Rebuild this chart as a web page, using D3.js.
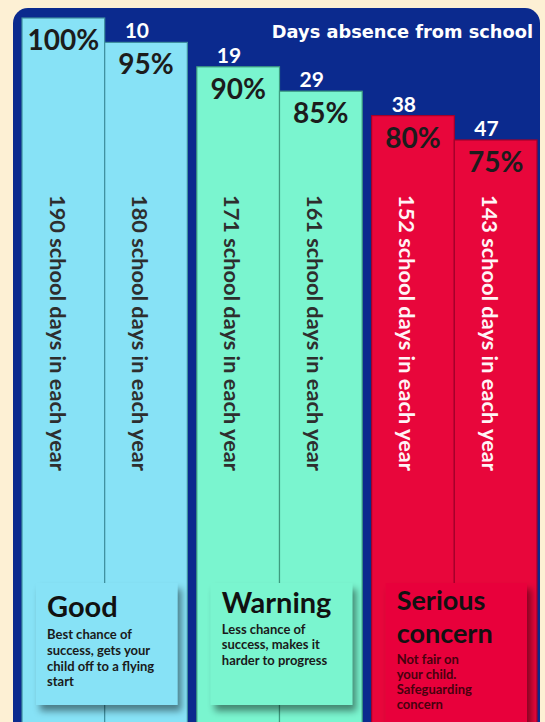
<!DOCTYPE html>
<html>
<head>
<meta charset="utf-8">
<script src="https://cdn.jsdelivr.net/npm/d3@7/dist/d3.min.js"></script>
<style>
  html, body { margin: 0; padding: 0; background: #fdf0d4; }
  svg { display: block; }
</style>
</head>
<body>
<svg id="chart" width="545" height="722"></svg>
<script>
// ---- data ----
const groups = ["Good", "Warning", "Serious concern"];
const barGroup = [0, 0, 1, 1, 2, 2];
const attendance = [100, 95, 90, 85, 80, 75];
const daysAbsent = [0, 10, 19, 29, 38, 47];
const schoolDays = [190, 180, 171, 161, 152, 143];
const cardTitles = [["Good"], ["Warning"], ["Serious", "concern"]];
const cardTexts = [
  ["Best chance of", "success, gets your", "child off to a flying", "start"],
  ["Less chance of", "success, makes it", "harder to progress"],
  ["Not fair on", "your child.", "Safeguarding", "concern"]
];
const chartTitle = "Days absence from school";

// ---- styles ----
const W = 545, H = 722;
const fills = ["#87e2f6", "#7af5cf", "#e8063b"];
const strokes = ["#3f8f9f", "#3e9c80", "#a3002a"];
const cardTextColor = ["#1a1a1a", "#1a1a1a", "#48000e"];
const dayLabelColor = ["#2e2e2e", "#2e2e2e", "#fff4f6"];

const svg = d3.select("#chart");
const defs = svg.append("defs");
const f = defs.append("filter").attr("id", "shadow")
  .attr("x", "-20%").attr("y", "-20%").attr("width", "150%").attr("height", "150%");
f.append("feDropShadow").attr("dx", 4).attr("dy", 6).attr("stdDeviation", 3.5)
  .attr("flood-color", "#000").attr("flood-opacity", 0.45);

svg.append("rect").attr("width", W).attr("height", H).attr("fill", "#fdf0d4");
// panel
svg.append("rect").attr("x", 13).attr("y", 8).attr("width", 527).attr("height", H + 30)
  .attr("rx", 15).attr("fill", "#0b2a8e");

// scales
const xGroup = d3.scaleBand().domain(d3.range(groups.length)).range([22, 537]).paddingInner(0.054).paddingOuter(0);
const xInner = d3.scaleBand().domain([0, 1]).range([0, xGroup.bandwidth()]).padding(0);
const y = d3.scaleLinear().domain([75, 100]).range([140, 18]);

const bars = attendance.map((v, i) => ({
  i, v, g: barGroup[i], days: daysAbsent[i], school: schoolDays[i],
  x: xGroup(barGroup[i]) + xInner(i % 2), w: xInner.bandwidth()
}));

const gBars = svg.append("g");
gBars.selectAll("rect").data(bars).join("rect")
  .attr("x", d => d.x).attr("y", d => y(d.v))
  .attr("width", d => d.w).attr("height", d => H + 10 - y(d.v))
  .attr("fill", d => fills[d.g]).attr("stroke", d => strokes[d.g]).attr("stroke-width", 1.2);

// percent labels
svg.append("g").selectAll("text").data(bars).join("text")
  .attr("x", d => d.x + d.w / 2).attr("y", d => y(d.v) + 32)
  .attr("text-anchor", "middle")
  .attr("font-family", "Lato, sans-serif").attr("font-size", 28).attr("font-weight", 700)
  .attr("fill", "#1c1c1c")
  .text(d => d.v + "%");

// days absent labels
svg.append("g").selectAll("text").data(bars.filter(d => d.days > 0)).join("text")
  .attr("x", d => d.x + 20).attr("y", d => y(d.v) - 4)
  .attr("font-family", "Lato, sans-serif").attr("font-size", 21).attr("font-weight", 700)
  .attr("fill", "#ffffff")
  .text(d => d.days);

// rotated school-days labels
svg.append("g").selectAll("text").data(bars).join("text")
  .attr("transform", d => `translate(${d.x + 36},195) rotate(90)`)
  .attr("dominant-baseline", "central")
  .attr("font-family", "Lato, sans-serif").attr("font-size", 21.8).attr("font-weight", 700)
  .attr("fill", d => dayLabelColor[d.g])
  .text(d => d.school + " school days in each year");

// title
svg.append("text").attr("x", 533).attr("y", 38).attr("text-anchor", "end")
  .attr("font-family", "'DejaVu Sans', sans-serif").attr("font-size", 17.8).attr("font-weight", 700)
  .attr("fill", "#ffffff").text(chartTitle);

// cards
const cards = groups.map((name, g) => ({
  g, x: xGroup(g) + 14, w: xGroup.bandwidth() - 24,
  top: 583, h: g === 2 ? 150 : 122
}));
const titleY = [[617], [613], [610, 643]];
const titleSize = [29, 29, 27];
const bodyY = [[639, 655, 671, 686], [634, 649, 665], [664, 679, 694, 709]];

const gc = svg.append("g").selectAll("g").data(cards).join("g");
gc.append("rect").attr("x", d => d.x).attr("y", d => d.top)
  .attr("width", d => d.w).attr("height", d => d.h)
  .attr("fill", d => fills[d.g]).attr("filter", "url(#shadow)");
gc.each(function (d) {
  const g = d3.select(this);
  cardTitles[d.g].forEach((t, k) => {
    g.append("text").attr("x", d.x + 11).attr("y", titleY[d.g][k])
      .attr("font-family", "Lato, sans-serif").attr("font-size", titleSize[d.g]).attr("font-weight", 700)
      .attr("fill", "#111").text(t);
  });
  cardTexts[d.g].forEach((t, k) => {
    g.append("text").attr("x", d.x + 11).attr("y", bodyY[d.g][k])
      .attr("font-family", "Lato, sans-serif").attr("font-size", 13).attr("font-weight", 700)
      .attr("fill", cardTextColor[d.g]).text(t);
  });
});
</script>
</body>
</html>
